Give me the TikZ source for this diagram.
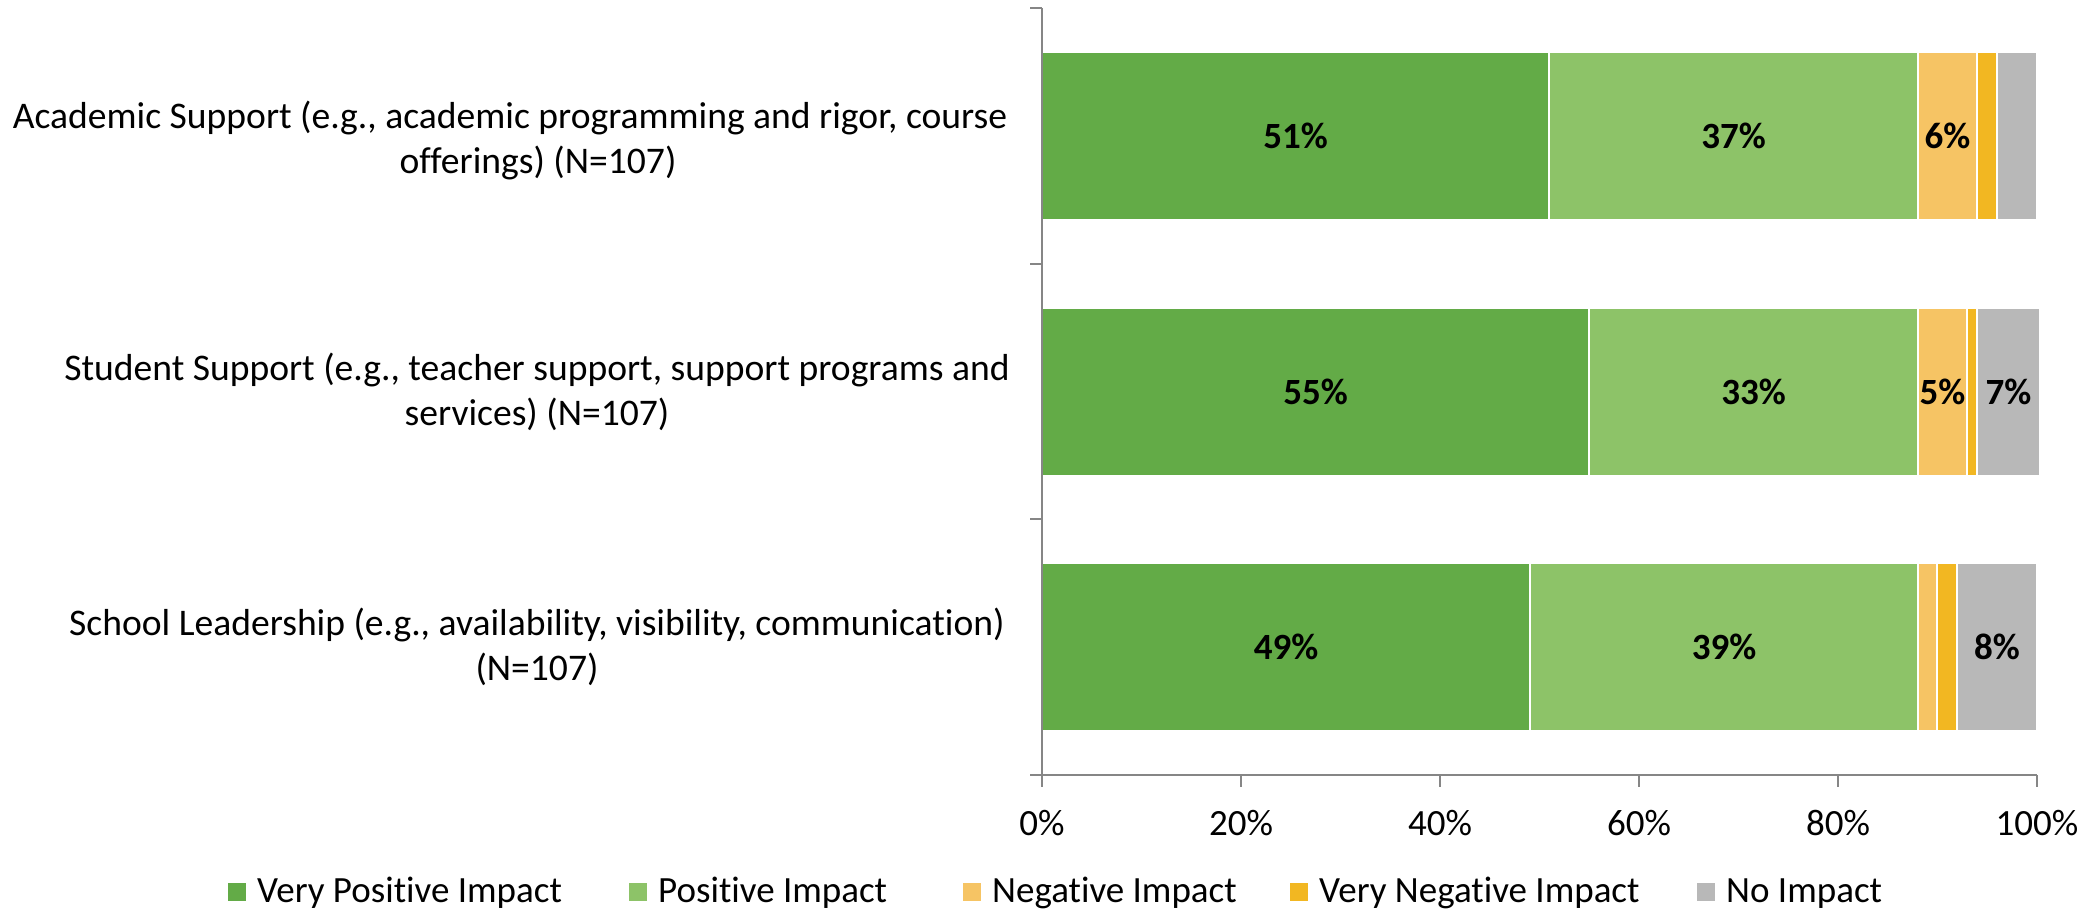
\documentclass[tikz,border=0pt]{standalone}
\usepackage{fontspec}
\setmainfont{Carlito}[Ligatures={NoCommon,NoContextual}]
\definecolor{vpos}{RGB}{99,171,71}
\definecolor{pos}{RGB}{141,195,104}
\definecolor{neg}{RGB}{246,196,100}
\definecolor{vneg}{RGB}{242,183,34}
\definecolor{noimp}{RGB}{184,184,184}
\definecolor{axisgray}{RGB}{134,134,134}
\begin{document}
\begin{tikzpicture}[x=1pt,y=-1pt,
  seg/.style={draw=white, line width=1.5pt},
  lbl/.style={font=\fontsize{37}{45}\selectfont, inner sep=0pt, text=black},
  catlbl/.style={font=\fontsize{37.6}{45}\selectfont, inner sep=0pt, text=black, align=center},
  val/.style={font=\fontsize{37}{45}\selectfont\bfseries, inner sep=0pt, text=black},
  axisline/.style={draw=axisgray, line width=2pt},
  legsq/.style={inner sep=0pt, minimum size=18pt}]
\useasboundingbox[fill=white] (0,0) rectangle (2097,911);

% Bar 1
\filldraw[seg, fill=vpos]  (1042,52) rectangle (1549,220);
\filldraw[seg, fill=pos]   (1549,52) rectangle (1918,220);
\filldraw[seg, fill=neg]   (1918,52) rectangle (1977,220);
\filldraw[seg, fill=vneg]  (1977,52) rectangle (1997,220);
\filldraw[seg, fill=noimp] (1997,52) rectangle (2037,220);
% Bar 2
\filldraw[seg, fill=vpos]  (1042,308) rectangle (1589,476);
\filldraw[seg, fill=pos]   (1589,308) rectangle (1918,476);
\filldraw[seg, fill=neg]   (1918,308) rectangle (1967,476);
\filldraw[seg, fill=vneg]  (1967,308) rectangle (1977,476);
\filldraw[seg, fill=noimp] (1977,308) rectangle (2040,476);
% Bar 3
\filldraw[seg, fill=vpos]  (1042,563) rectangle (1530,731);
\filldraw[seg, fill=pos]   (1530,563) rectangle (1918,731);
\filldraw[seg, fill=neg]   (1918,563) rectangle (1937,731);
\filldraw[seg, fill=vneg]  (1937,563) rectangle (1957,731);
\filldraw[seg, fill=noimp] (1957,563) rectangle (2037,731);

% Value labels
\node[val] (v11) at (1295.5,136) {51\%};
\node[val] (v12) at (1733.5,136) {37\%};
\node[val] (v13) at (1947.5,136) {6\%};
\node[val] (v21) at (1315.5,392) {55\%};
\node[val] (v22) at (1753.5,392) {33\%};
\node[val] (v23) at (1942.5,392) {5\%};
\node[val] (v25) at (2008.5,392) {7\%};
\node[val] (v31) at (1286,647) {49\%};
\node[val] (v32) at (1724,647) {39\%};
\node[val] (v35) at (1997,647) {8\%};

% Axes
\draw[axisline] (1042,8) -- (1042,787);
\draw[axisline] (1030,775) -- (2037,775);
\foreach \yy in {8,263.7,519.3} \draw[axisline] (1030,\yy) -- (1042,\yy);
\foreach \xx in {1241,1440,1639,1838,2037} \draw[axisline] (\xx,775) -- (\xx,787);

% Tick labels
\node[lbl, anchor=base] (t0) at (1042,835) {0\%};
\node[lbl, anchor=base] (t1) at (1241,835) {20\%};
\node[lbl, anchor=base] (t2) at (1440,835) {40\%};
\node[lbl, anchor=base] (t3) at (1639,835) {60\%};
\node[lbl, anchor=base] (t4) at (1838,835) {80\%};
\node[lbl, anchor=base] (t5) at (2037,835) {100\%};

% Category labels
\node[catlbl] (c1) at (510,140) {Academic Support (e.g., academic programming and rigor, course\\\hspace*{56pt}offerings) (N=107)};
\node[catlbl] (c2) at (537,392) {Student Support (e.g., teacher support, support programs and\\services) (N=107)};
\node[catlbl] (c3) at (537,647) {School Leadership (e.g., availability, visibility, communication)\\(N=107)};

% Legend
\node[legsq, fill=vpos, anchor=north west] (s1) at (228,883) {};
\node[lbl, anchor=base west] (g1) at (257,902) {Very Positive Impact};
\node[legsq, fill=pos, anchor=north west] (s2) at (629,883) {};
\node[lbl, anchor=base west] (g2) at (658,902) {Positive Impact};
\node[legsq, fill=neg, anchor=north west] (s3) at (963,883) {};
\node[lbl, anchor=base west] (g3) at (992,902) {Negative Impact};
\node[legsq, fill=vneg, anchor=north west] (s4) at (1290,883) {};
\node[lbl, anchor=base west] (g4) at (1319,902) {Very Negative Impact};
\node[legsq, fill=noimp, anchor=north west] (s5) at (1697,883) {};
\node[lbl, anchor=base west] (g5) at (1726,902) {No Impact};
\end{tikzpicture}
\end{document}
